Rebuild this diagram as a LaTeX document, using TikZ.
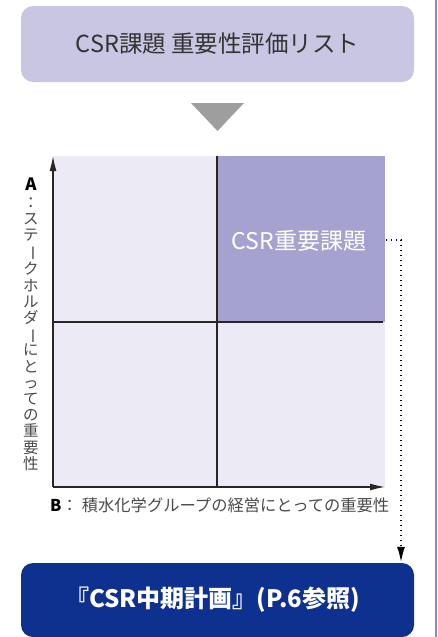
\documentclass[tikz,border=0pt]{standalone}
\usepackage{fontspec}
\setmainfont{Noto Sans CJK JP}
\usetikzlibrary{arrows.meta}
\definecolor{topfill}{HTML}{C9C6E3}
\definecolor{tri}{HTML}{9E9E9E}
\definecolor{quadlight}{HTML}{ECEAF5}
\definecolor{quadhi}{HTML}{A6A2D0}
\definecolor{botfill}{HTML}{0E318F}
\definecolor{edgeblue}{HTML}{7B8FD0}
\definecolor{txtdark}{HTML}{333333}
\definecolor{txtgray}{HTML}{4A4A4A}
\definecolor{axiscol}{HTML}{2A2424}
\newcommand\vbar{\rotatebox[origin=c]{-90}{ー}}
\begin{document}
\begin{tikzpicture}[x=1pt,y=-1pt,
  titlebox/.style={rounded corners=12pt, minimum width=393pt, inner sep=0pt},
  axisline/.style={draw=axiscol, line width=1.3pt, -{Latex[length=15pt,width=7pt]}},
  divider/.style={draw=axiscol, line width=1.1pt},
  dotline/.style={draw=black, line width=1.2pt, dash pattern=on 1.2pt off 3.8pt,
     -{Latex[length=15pt,width=8pt]}, shorten >=1pt},
  lbl/.style={inner sep=0pt, text=txtgray}
]
\useasboundingbox (0,0) rectangle (437,637);
\draw[edgeblue, line width=2pt] (436,0) -- (436,637);

% top box
\node[titlebox, fill=topfill, minimum height=76pt, text=txtdark,
      font=\fontsize{23.5}{23.5}\selectfont] (top) at (217.5,44) {CSR課題 重要性評価リスト};

% down triangle
\fill[tri] (191,103) -- (244,103) -- (217.5,131) -- cycle;

% chart
\node[fill=quadlight, minimum width=332pt, minimum height=331pt, inner sep=0pt,
      anchor=north west] (chart) at (53,156) {};
\node[fill=quadhi, minimum width=168pt, minimum height=166pt, inner sep=0pt,
      anchor=north west] (hi) at (217,156) {};
\node[text=white, font=\fontsize{23}{23}\selectfont, inner sep=0pt] (hilabel) at (299,241) {CSR重要課題};

\coordinate (O) at (53,487);
\coordinate (ytip) at (53,156);
\coordinate (xtip) at (385,487);
\coordinate (vtop) at (217,156);
\coordinate (vbot) at (217,487);
\coordinate (hl) at (53,322);
\coordinate (hr) at (383,322);
\draw[divider] (vtop) -- (vbot);
\draw[divider] (hl) -- (hr);
\draw[axisline] (O) -- (ytip);
\draw[axisline] (O) -- (xtip);

% axis labels
\node[lbl, text=black, font=\fontsize{17}{17}\selectfont\bfseries] (alabel) at (31,184) {A};
\node[lbl, align=center, font=\fontsize{15.5}{16.2}\selectfont] (atext) at (31,334)
 {：\\ス\\テ\\\vbar\\ク\\ホ\\ル\\ダ\\\vbar\\に\\と\\っ\\て\\の\\重\\要\\性};
\node[lbl, anchor=west, font=\fontsize{16.3}{16.3}\selectfont] (btext) at (50,505)
 {\textcolor{black}{\bfseries B}：\hspace{4pt}積水化学グループの経営にとっての重要性};

% bottom box
\node[titlebox, fill=botfill, minimum height=74pt, text=white,
      font=\fontsize{24}{24}\selectfont\bfseries] (bot) at (217.5,600) {\hspace{-10pt}『CSR中期計画』(P.6参照)};

% dotted connector
\coordinate (d1) at (386,240);
\coordinate (d2) at (401,240);
\draw[dotline] (d1) -- (d2) -- (d2 |- bot.north);
\end{tikzpicture}
\end{document}
